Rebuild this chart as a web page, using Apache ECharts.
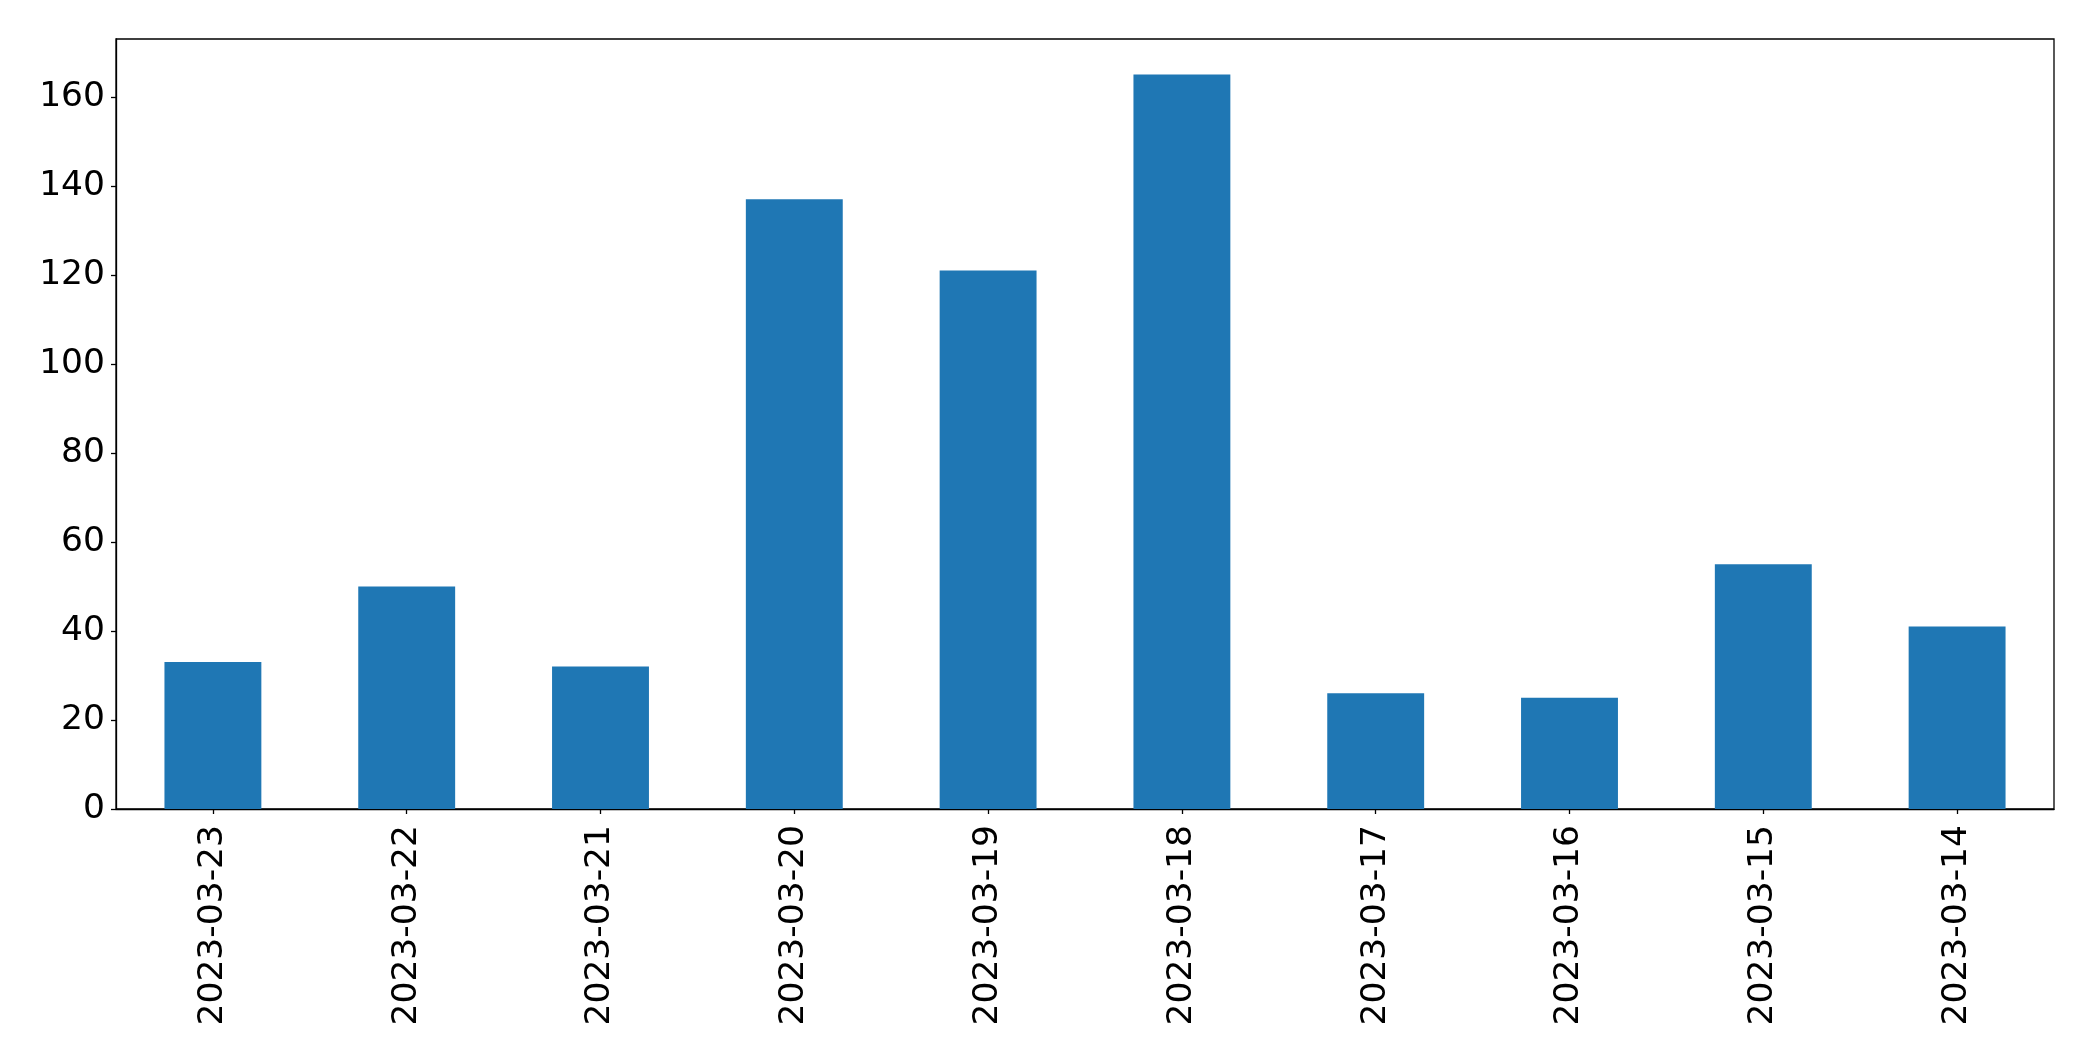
<!DOCTYPE html>
<html>
<head>
<meta charset="utf-8">
<script src="https://cdn.jsdelivr.net/npm/echarts@6/dist/echarts.min.js"></script>
<style>
html,body{margin:0;padding:0;background:#fff;}
#chart{width:2093px;height:1061px;}
</style>
</head>
<body>
<div id="chart"></div>
<script>
const categories = ['2023-03-23','2023-03-22','2023-03-21','2023-03-20','2023-03-19','2023-03-18','2023-03-17','2023-03-16','2023-03-15','2023-03-14'];
const values = [33, 50, 32, 137, 121, 165, 26, 25, 55, 41];
const yTicks = [0, 20, 40, 60, 80, 100, 120, 140, 160];

const chart = echarts.init(document.getElementById('chart'), null, {renderer: 'canvas'});
const font = 'DejaVu Sans';
chart.setOption({
  animation: false,
  backgroundColor: '#ffffff',
  grid: {left: 116, top: 39, right: 39, bottom: 252, show: true, borderColor: '#000', borderWidth: 1.3, backgroundColor: 'transparent'},
  xAxis: {
    type: 'category',
    data: categories,
    boundaryGap: true,
    axisLine: {show: true, lineStyle: {color: '#000', width: 1.3}},
    axisTick: {show: true, alignWithLabel: true, length: 5, lineStyle: {color: '#000', width: 1.3}},
    axisLabel: {rotate: 90, color: '#000', fontFamily: font, fontSize: 34.5, margin: 16, interval: 0},
    splitLine: {show: false}
  },
  yAxis: {
    type: 'value',
    min: 0,
    max: 173,
    interval: 20,
    axisLine: {show: true, lineStyle: {color: '#000', width: 1.3}},
    axisTick: {show: true, length: 5, lineStyle: {color: '#000', width: 1.3}, customValues: yTicks},
    axisLabel: {color: '#000', fontFamily: font, fontSize: 34.5, margin: 11, customValues: yTicks},
    splitLine: {show: false}
  },
  series: [{
    type: 'bar',
    data: values,
    barWidth: '50%',
    itemStyle: {color: '#1f77b4'}
  }]
});
</script>
</body>
</html>
